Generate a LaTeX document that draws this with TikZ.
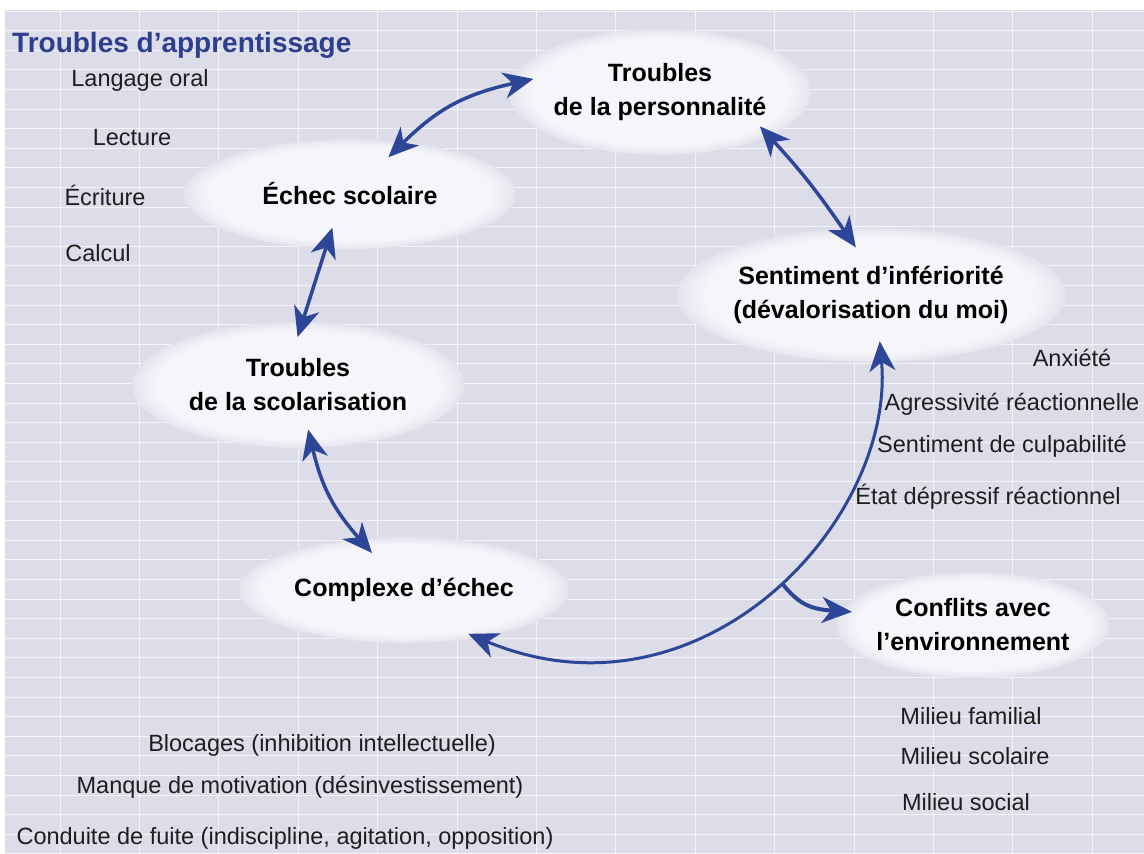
\documentclass[tikz,border=0pt]{standalone}
\usepackage{fontspec}
\setmainfont{Liberation Sans}
\usetikzlibrary{arrows.meta, shapes.geometric}

\definecolor{fond}{RGB}{220,221,233}
\definecolor{blanccasse}{RGB}{246,246,250}
\colorlet{bordmi}{blanccasse!60!fond}
\colorlet{bordext}{blanccasse!25!fond}
\definecolor{bleufleche}{RGB}{45,70,152}
\definecolor{bleutitre}{RGB}{45,62,140}
\definecolor{encre}{RGB}{30,30,30}

\pgfdeclareradialshading{nuage}{\pgfpoint{0bp}{0bp}}{color(0bp)=(blanccasse); color(21bp)=(blanccasse); color(23.5bp)=(bordmi); color(25bp)=(bordext); color(50bp)=(fond)}

\begin{document}
\begin{tikzpicture}[x=1bp, y=-1bp, >={Stealth[length=30bp, width=26bp, inset=9bp]}]

  % Styles
  \tikzstyle{bulle} = [ellipse, shading=nuage, inner sep=0pt, text=black, align=center,
    font=\fontsize{25bp}{34bp}\selectfont\bfseries]
  \tikzstyle{texte} = [inner sep=0pt, text=encre, font=\fontsize{23.5bp}{28bp}\selectfont]
  \tikzstyle{titre} = [inner sep=0pt, text=bleutitre, font=\fontsize{28bp}{32bp}\selectfont\bfseries]
  \tikzstyle{lien} = [<->, draw=bleufleche, line width=3.5bp]
  \tikzstyle{grille} = [draw=white, line width=1bp, opacity=0.7]

  \useasboundingbox (0,0) rectangle (1144,854);

  % Fond quadrille
  \fill[white] (0,0) rectangle (1144,854);
  \fill[fond] (5,10) rectangle (1144,854);
  \foreach \k in {0,...,43} \draw[grille] (5,{11+19.6*\k}) -- (1144,{11+19.6*\k});
  \foreach \k in {0,...,13} \draw[grille] ({60+79.4*\k},10) -- ({60+79.4*\k},854);

  % Bulles
  \node[bulle, minimum width=332bp, minimum height=110bp] (echec) at (350,194) {Échec scolaire};
  \node[bulle, minimum width=302bp, minimum height=126bp] (perso) at (660,92) {Troubles\\de la personnalité};
  \node[bulle, minimum width=328bp, minimum height=134bp] (infer) at (871,295) {Sentiment d’infériorité\\(dévalorisation du moi)};
  \node[bulle, minimum width=332bp, minimum height=126bp] (scolar) at (298,385) {Troubles\\de la scolarisation};
  \node[bulle, minimum width=330bp, minimum height=106bp] (complexe) at (404,590) {Complexe d’échec};
  \node[bulle, minimum width=252bp, minimum height=106bp] (conflits) at (973,625) {Conflits avec\\l’environnement};

  % Textes
  \node[titre, anchor=west] (apprent) at (12,45) {Troubles d’apprentissage};
  \node[texte] (langage) at (140,80) {Langage oral};
  \node[texte] (lecture) at (132,138) {Lecture};
  \node[texte] (ecriture) at (105,195) {Écriture};
  \node[texte] (calcul) at (98,253) {Calcul};

  \node[texte] (anxiete) at (1072,358) {Anxiété};
  \node[texte] (agress) at (1012,404) {Agressivité réactionnelle};
  \node[texte] (culpa) at (1002,446) {Sentiment de culpabilité};
  \node[texte] (depress) at (988,497) {État dépressif réactionnel};

  \node[texte] (familial) at (971,716) {Milieu familial};
  \node[texte] (scolaire) at (975,756) {Milieu scolaire};
  \node[texte] (social) at (966,802) {Milieu social};

  \node[texte] (blocages) at (322,745) {Blocages (inhibition intellectuelle)};
  \node[texte] (motiv) at (300,787) {Manque de motivation (désinvestissement)};
  \node[texte] (fuite) at (285,838) {Conduite de fuite (indiscipline, agitation, opposition)};

  % Fleches
  \draw[lien, shorten <=-22bp, shorten >=-24bp] (echec.44) to[bend left=16] (perso.177);
  \draw[lien, shorten <=-13bp, shorten >=-23bp] (perso.338) to[bend left=4] (infer.113);
  \draw[lien, shorten <=-22bp, shorten >=-16bp] (echec.246) to (scolar.86);
  \draw[lien, shorten <=-19bp, shorten >=-19bp] (scolar.283) to[bend right=14] (complexe.131);
  \draw[lien, line width=3bp, shorten <=-10bp, shorten >=-21bp] (complexe.327) .. controls +(224,93) and +(14,159) .. (infer.279) coordinate[pos=0.53] (fourche);
  \draw[->, draw=bleufleche, line width=4bp, shorten >=-11bp] (fourche) .. controls +(16,20) and +(-32,-2) .. (conflits.174);

\end{tikzpicture}
\end{document}
